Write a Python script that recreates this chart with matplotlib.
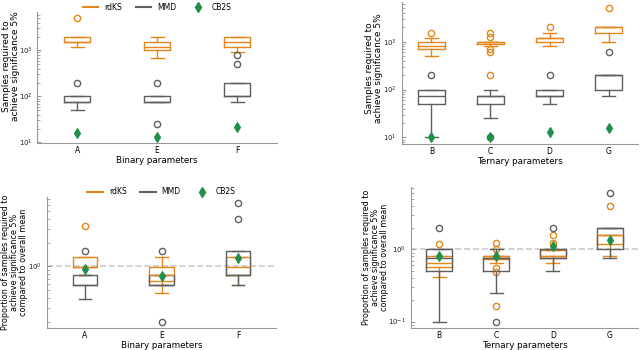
import matplotlib
matplotlib.use('Agg')
import matplotlib.pyplot as plt
from matplotlib.lines import Line2D

ORANGE = '#e3861b'
GREY = '#5f5f5f'
GREEN = '#1f8f4a'

binary_params = ['A', 'E', 'F']
ternary_params = ['B', 'C', 'D', 'G']

# boxes as (whisker low, q1, median, q3, whisker high)
# top row: samples needed
rdks_bin = [(1200, 1500, 1500, 2000, 2000), (700, 1000, 1200, 1500, 2000), (900, 1200, 1500, 2000, 2000)]
rdks_bin_out = [[5000], [], []]
mmd_bin = [(50, 75, 75, 100, 100), (75, 75, 75, 100, 100), (75, 100, 100, 200, 200)]
mmd_bin_out = [[200], [200, 25], [500, 800]]
cb2s_bin = [16, 13, 22]

rdks_ter = [(500, 700, 800, 1000, 1200), (800, 900, 1000, 1000, 1000),
            (800, 1000, 1200, 1200, 1500), (1000, 1500, 2000, 2000, 2000)]
rdks_ter_out = [[1500], [1500, 1250, 700, 600, 200], [2000], [5000]]
mmd_ter = [(10, 50, 75, 100, 100), (25, 50, 75, 75, 100), (50, 75, 75, 100, 100), (75, 100, 200, 200, 200)]
mmd_ter_out = [[200], [10], [200], [600]]
cb2s_ter = [10, 10.3, 13, 16]

# bottom row: proportion of overall mean
rdks_bin_rel = [(0.78, 0.98, 0.98, 1.31, 1.31), (0.46, 0.65, 0.78, 0.98, 1.31), (0.59, 0.78, 0.98, 1.31, 1.31)]
rdks_bin_rel_out = [[3.27], [], []]
mmd_bin_rel = [(0.39, 0.59, 0.59, 0.79, 0.79), (0.59, 0.59, 0.59, 0.79, 0.79), (0.59, 0.79, 0.79, 1.57, 1.57)]
mmd_bin_rel_out = [[1.57], [1.57, 0.2], [3.94, 6.3]]
cb2s_bin_rel = [0.94, 0.76, 1.29]

rdks_ter_rel = [(0.41, 0.57, 0.64, 0.81, 0.81), (0.65, 0.73, 0.8, 0.8, 0.8),
                (0.64, 0.8, 0.8, 0.97, 0.97), (0.81, 1.2, 1.61, 1.61, 1.61)]
rdks_ter_rel_out = [[1.2], [1.21, 1.02, 0.56, 0.48, 0.165], [1.61, 1.22], [4.0]]
mmd_ter_rel = [(0.1, 0.5, 0.75, 1.0, 1.0), (0.25, 0.5, 0.75, 0.75, 1.0),
               (0.5, 0.75, 0.75, 1.0, 1.0), (0.75, 1.0, 2.0, 2.0, 2.0)]
mmd_ter_rel_out = [[2.0], [0.1], [2.0], [6.0]]
cb2s_ter_rel = [0.82, 0.82, 1.1, 1.33]


def draw_boxes(ax, boxes, outliers, color, width):
    stats = [dict(whislo=b[0], q1=b[1], med=b[2], q3=b[3], whishi=b[4], fliers=f)
             for b, f in zip(boxes, outliers)]
    line = dict(color=color, lw=1.0)
    ax.bxp(stats, positions=list(range(len(stats))), widths=width,
           boxprops=line, whiskerprops=line, capprops=line, medianprops=line,
           flierprops=dict(marker='o', mfc='none', mec=color, ms=4.5, mew=1.0),
           manage_ticks=False)


def panel(ax, params, rdks, rdks_out, mmd, mmd_out, cb2s, width, xlabel, ylabel, ysize):
    ax.set_yscale('log')
    draw_boxes(ax, rdks, rdks_out, ORANGE, width)
    draw_boxes(ax, mmd, mmd_out, GREY, width)
    ax.plot(range(len(cb2s)), cb2s, 'd', color=GREEN, ms=5.5, mew=0.8, zorder=5)
    ax.set_xlim(-0.5, len(params) - 0.5)
    ax.set_xticks(range(len(params)))
    ax.set_xticklabels(params)
    ax.set_xlabel(xlabel, fontsize=6.3, labelpad=1)
    ax.set_ylabel(ylabel, fontsize=ysize, linespacing=1.0)
    for s in ['top', 'right']:
        ax.spines[s].set_visible(False)
    for s in ['left', 'bottom']:
        ax.spines[s].set_color('#999999')
    ax.tick_params(axis='x', length=0, labelsize=5.5, pad=2)
    ax.tick_params(axis='y', which='both', direction='in', colors='#999999', labelsize=5,
                   labelcolor='#222222')
    ax.tick_params(axis='y', which='major', length=3)
    ax.tick_params(axis='y', which='minor', length=2)


def add_legend(ax):
    handles = [Line2D([], [], color=ORANGE, lw=1.5),
               Line2D([], [], color=GREY, lw=1.5),
               Line2D([], [], marker='d', color=GREEN, ls='none', ms=5)]
    ax.legend(handles, ['rdKS', 'MMD', 'CB2S'], ncol=3, loc='center',
              bbox_to_anchor=(0.5, 1.04), frameon=False, fontsize=5.5,
              handlelength=2.0, columnspacing=1.8, handletextpad=0.8)


fig = plt.figure(figsize=(6.4, 3.5), dpi=100)

ylab_top = 'Samples required to\nachieve significance 5%'
ylab_bot = 'Proportion of samples required to\nachieve significance 5%\ncompared to overall mean'

ax1 = fig.add_axes([0.058, 0.591, 0.375, 0.374])
panel(ax1, binary_params, rdks_bin, rdks_bin_out, mmd_bin, mmd_bin_out, cb2s_bin,
      0.32, 'Binary parameters', ylab_top, 6.5)
add_legend(ax1)
ax1.yaxis.set_label_coords(-0.072, 0.59)

ax2 = fig.add_axes([0.628, 0.589, 0.369, 0.406])
panel(ax2, ternary_params, rdks_ter, rdks_ter_out, mmd_ter, mmd_ter_out, cb2s_ter,
      0.46, 'Ternary parameters', ylab_top, 6.5)
ax2.yaxis.set_label_coords(-0.08, 0.535)

ax3 = fig.add_axes([0.073, 0.063, 0.359, 0.374])
ax3.axhline(1, color='#cccccc', ls='--', lw=1.2, zorder=0)
panel(ax3, binary_params, rdks_bin_rel, rdks_bin_rel_out, mmd_bin_rel, mmd_bin_rel_out,
      cb2s_bin_rel, 0.32, 'Binary parameters', ylab_bot, 5.8)
add_legend(ax3)
ax3.yaxis.set_label_coords(-0.082, 0.5)

ax4 = fig.add_axes([0.642, 0.063, 0.355, 0.403])
ax4.axhline(1, color='#cccccc', ls='--', lw=1.2, zorder=0)
panel(ax4, ternary_params, rdks_ter_rel, rdks_ter_rel_out, mmd_ter_rel, mmd_ter_rel_out,
      cb2s_ter_rel, 0.46, 'Ternary parameters', ylab_bot, 5.8)
ax4.yaxis.set_label_coords(-0.095, 0.5)

fig.savefig('out.png', dpi=100)
